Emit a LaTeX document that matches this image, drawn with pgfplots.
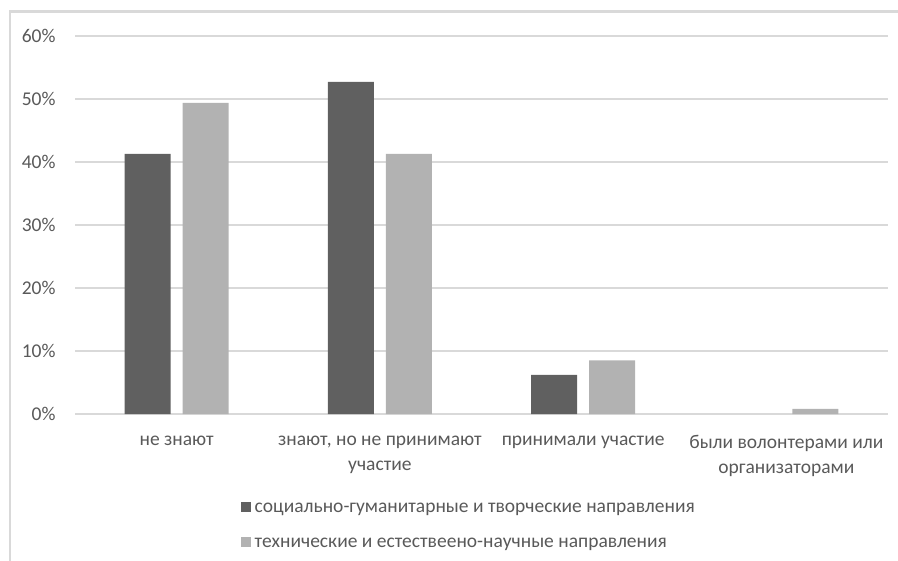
\documentclass[border=0pt]{standalone}
\usepackage{pgfplots}
\pgfplotsset{compat=1.18}
\usepackage{fontspec}
\setmainfont{Carlito}
\definecolor{darkbar}{HTML}{606060}
\definecolor{lightbar}{HTML}{B2B2B2}
\definecolor{gridc}{HTML}{D9D9D9}
\definecolor{txt}{HTML}{595959}
\begin{document}
\begin{tikzpicture}
\useasboundingbox (0bp,0bp) rectangle (898bp,-561bp);
\draw[gridc, line width=2.5bp] (10bp,-561bp) -- (10bp,-11.5bp) -- (898bp,-11.5bp);
\begin{axis}[
  at={(75bp,-414bp)}, anchor=south west,
  scale only axis, width=813bp, height=378bp,
  ybar=12bp, bar width=46bp,
  xmin=-0.5, xmax=3.5, ymin=0, ymax=60,
  xtick={0,1,2,3},
  xticklabels={не знают, {знают, но не принимают\\участие}, принимали участие, {были волонтерами или\\организаторами}},
  ytick={0,10,20,30,40,50,60},
  yticklabels={0\%,10\%,20\%,30\%,40\%,50\%,60\%},
  ymajorgrids, grid style={gridc, line width=1.3bp},
  extra y ticks={0}, extra y tick labels={},
  extra y tick style={grid style={gridc, line width=2.5bp}},
  axis line style={draw=none},
  major tick length=0pt,
  tick label style={font=\fontsize{19.5bp}{25bp}\selectfont, text=txt},
  xticklabel style={align=center, yshift=-18bp},
  yticklabel style={xshift=-16bp},
  legend cell align=left,
  legend style={at={(0.2042,-0.23)}, anchor=north west, draw=none, fill=none,
    inner sep=0pt, row sep=20bp, font=\fontsize{19.5bp}{22bp}\selectfont, text=txt},
  legend image code/.code={\fill[#1] (0bp,-3bp) rectangle (9.5bp,6.5bp);},
]
\addplot[fill=darkbar, draw=none] coordinates {(0,41.3) (1,52.7) (2,6.2)};
\addplot[fill=lightbar, draw=none] coordinates {(0,49.4) (1,41.3) (2,8.5) (3,0.8)};
\legend{\hspace{2bp}социально-гуманитарные и творческие направления, \hspace{2bp}технические и естествеено-научные направления}
\end{axis}
\end{tikzpicture}
\end{document}
